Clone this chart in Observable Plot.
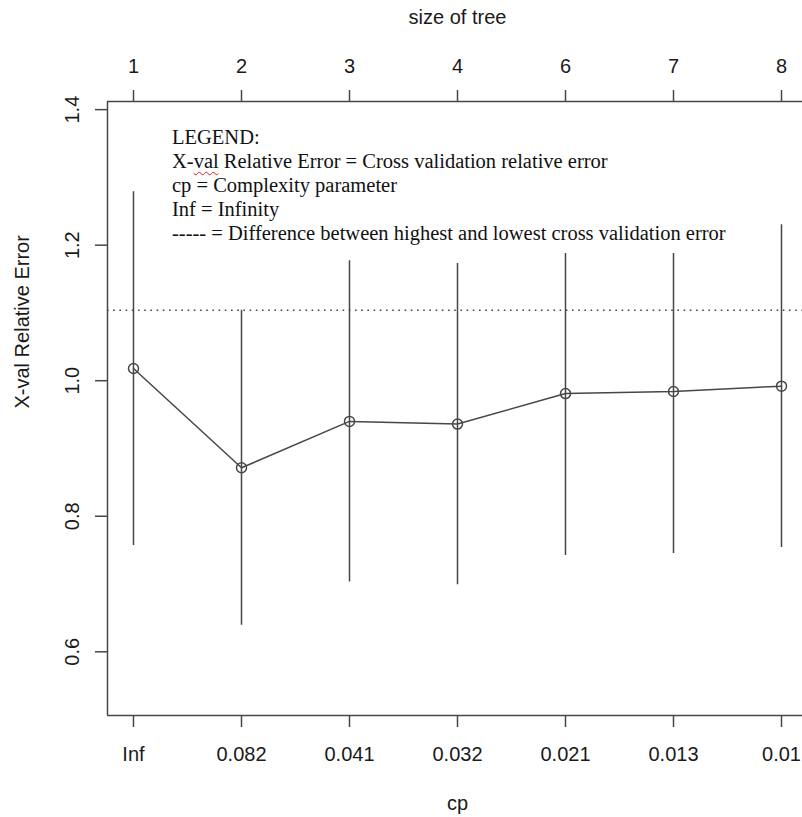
<!DOCTYPE html>
<html><head><meta charset="utf-8">
<script src="https://cdn.jsdelivr.net/npm/d3@7"></script>
<script src="https://cdn.jsdelivr.net/npm/@observablehq/plot@0.6"></script>
<style>
html,body{margin:0;padding:0;background:#fff;overflow:hidden}
#wrap{position:relative;width:802px;height:817px}
#legend{position:absolute;left:168px;top:125px;background:#fff;font-family:"Liberation Serif","Times New Roman",serif;font-size:20.5px;line-height:24px;color:#111;padding:0 6px 8px 4px;white-space:nowrap}
.sq{text-decoration:underline wavy #e02020;text-decoration-thickness:1px;text-underline-offset:3px}
</style></head><body><div id="wrap"><div id="chart"></div><div id="legend"></div></div>
<script>
// ---- data ----
const cpLabels   = ["Inf", "0.082", "0.041", "0.032", "0.021", "0.013", "0.01"];
const sizeLabels = ["1", "2", "3", "4", "6", "7", "8"];
const xerror     = [1.018, 0.8715, 0.940, 0.936, 0.981, 0.984, 0.992];
const xstd       = [0.261, 0.2325, 0.237, 0.237, 0.239, 0.239, 0.238];
const yTicks     = [0.6, 0.8, 1.0, 1.2, 1.4];
const legendLines = [
  "LEGEND:",
  "X-val Relative Error = Cross validation relative error",
  "cp = Complexity parameter",
  "Inf = Infinity",
  "----- = Difference between highest and lowest cross validation error"
];

const data = cpLabels.map((cp, k) => ({i: k + 1, cp, size: sizeLabels[k], err: xerror[k], lo: xerror[k] - xstd[k], hi: xerror[k] + xstd[k]}));
const idx = data.map(d => d.i);
const best = d3.minIndex(xerror);
const threshold = xerror[best] + xstd[best];

const xDomain = [1 - 0.2407, 7 + 0.1944];
const yDomain = [0.506, 1.412];
const ink = "#474747";
const sw = 1.5;
const font = "'Liberation Sans', Arial, Helvetica, sans-serif";

const chart = Plot.plot({
  width: 802, height: 817,
  marginLeft: 107, marginRight: 0, marginTop: 101, marginBottom: 102,
  style: {fontFamily: font, fontSize: "20px", color: ink, background: "#fff"},
  x: {domain: xDomain, axis: null},
  y: {domain: yDomain, axis: null},
  marks: [
    // frame (left, top, bottom)
    Plot.ruleY([yDomain[0], yDomain[1]], {stroke: ink, strokeWidth: sw}),
    Plot.ruleX([xDomain[0]], {stroke: ink, strokeWidth: sw}),
    // ticks
    Plot.axisY({ticks: yTicks, anchor: "left", tickSize: 12, tickFormat: () => "", label: null, strokeWidth: sw}),
    Plot.axisX({ticks: idx, anchor: "bottom", tickSize: 12, tickFormat: () => "", label: null, strokeWidth: sw}),
    Plot.axisX({ticks: idx, anchor: "top", tickSize: 12, tickFormat: () => "", label: null, strokeWidth: sw}),
    // tick labels
    Plot.text(yTicks, {y: d => d, frameAnchor: "left", dx: -35, rotate: -90, text: d => d.toFixed(1), textAnchor: "middle", lineAnchor: "middle", fill: "#1a1a1a"}),
    Plot.text(data, {x: "i", frameAnchor: "bottom", dy: 39, text: "cp", textAnchor: "middle", lineAnchor: "middle", fill: "#1a1a1a"}),
    Plot.text(data, {x: "i", frameAnchor: "top", dy: -35, text: "size", textAnchor: "middle", lineAnchor: "middle", fill: "#1a1a1a"}),
    // axis titles
    Plot.text(["size of tree"], {frameAnchor: "top", dx: 2.5, dy: -84, lineAnchor: "middle", fill: "#1a1a1a"}),
    Plot.text(["cp"], {frameAnchor: "bottom", dx: 2.5, dy: 88, lineAnchor: "middle", fill: "#1a1a1a"}),
    Plot.text(["X-val Relative Error"], {frameAnchor: "left", dx: -85, rotate: -90, lineAnchor: "middle", fill: "#1a1a1a"}),
    // threshold
    Plot.ruleY([threshold], {stroke: ink, strokeWidth: 1.4, strokeDasharray: "1.6,4.6"}),
    // error bars, line, points
    Plot.ruleX(data, {x: "i", y1: "lo", y2: "hi", stroke: ink, strokeWidth: sw}),
    Plot.line(data, {x: "i", y: "err", stroke: ink, strokeWidth: sw}),
    Plot.dot(data, {x: "i", y: "err", r: 5, stroke: ink, strokeWidth: sw, fill: "none"})
  ]
});
document.getElementById("chart").appendChild(chart);

const leg = document.getElementById("legend");
legendLines.forEach((line, k) => {
  const div = document.createElement("div");
  if (k === 1) {
    div.innerHTML = "X-<span class='sq'>val</span>" + line.slice(5);
  } else {
    div.textContent = line;
  }
  leg.appendChild(div);
});
</script>
</body></html>
